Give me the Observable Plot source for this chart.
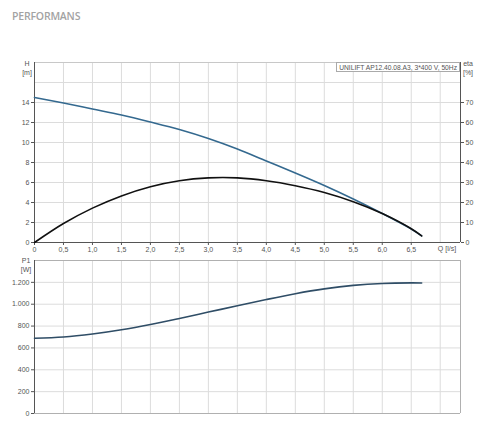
<!DOCTYPE html>
<html><head><meta charset="utf-8">
<script src="https://cdn.jsdelivr.net/npm/d3@7"></script>
<script src="https://cdn.jsdelivr.net/npm/@observablehq/plot@0.6"></script>
<style>
body{margin:0;background:#fff;font-family:"Liberation Sans",Arial,sans-serif;}
#wrap{position:relative;width:480px;height:426px;overflow:hidden;background:#fff;}
.lbl{position:absolute;font-size:7px;color:#555;line-height:9px;text-align:center;white-space:nowrap;}
#title{position:absolute;left:12px;top:9px;font-family:"Open Sans",sans-serif;font-weight:600;font-size:10.5px;color:#a3a3a3;letter-spacing:-0.2px;}
#box{position:absolute;right:20px;top:62px;height:10px;padding:0 2px;border:1px solid #aaa;background:#fff;font-size:6.7px;line-height:9px;color:#555;box-sizing:border-box;}
#top,#bot{position:absolute;left:0;}
#top{top:50px;}
#bot{top:250px;}
</style></head><body><div id="wrap">
<div id="title">PERFORMANS</div>
<div id="top"></div>
<div id="bot"></div>
<div class="lbl" style="left:20px;top:59px;width:14px;">H<br>[m]</div>
<div class="lbl" style="left:460px;top:59px;width:16px;">eta<br>[%]</div>
<div class="lbl" style="left:430px;top:244px;width:34px;">Q [l/s]</div>
<div class="lbl" style="left:18px;top:256px;width:16px;">P1<br>[W]</div>
<div id="box">UNILIFT AP12.40.08.A3, 3*400 V, 50Hz</div>
</div>
<script>
// Flow Q [l/s]
const q    = [0, 0.5, 1.0, 1.5, 2.0, 2.5, 3.0, 3.5, 4.0, 4.5, 5.0, 5.5, 6.0, 6.5, 6.68];
// Head H [m]
const head = [14.5, 13.95, 13.35, 12.75, 12.05, 11.3, 10.4, 9.35, 8.15, 6.95, 5.7, 4.35, 2.9, 1.35, 0.67];
// Efficiency eta [%]
const eta  = [0, 9.5, 17.2, 23.3, 27.9, 30.9, 32.3, 32.3, 30.9, 28.4, 25.0, 20.4, 14.5, 6.9, 3.3];
// Power P1 [W]
const p1   = [688, 700, 728, 767, 815, 870, 928, 986, 1043, 1096, 1140, 1172, 1190, 1195, 1194];

const xTicks = [0, 0.5, 1.0, 1.5, 2.0, 2.5, 3.0, 3.5, 4.0, 4.5, 5.0, 5.5, 6.0, 6.5];
const xGrid  = [0.5, 1.0, 1.5, 2.0, 2.5, 3.0, 3.5, 4.0, 4.5, 5.0, 5.5, 6.0, 6.5, 7.0];
const hTicks = [0, 2, 4, 6, 8, 10, 12, 14];
const hGrid  = [2, 4, 6, 8, 10, 12, 14, 16];
const pTicks = [0, 200, 400, 600, 800, 1000, 1200];
const etaPerH = 5;
const xMax = 7.35, hMax = 18, pMax = 1400;

const data = q.map((v, i) => ({q: v, h: head[i], eta: eta[i], p: p1[i]}));
const fmtX = d => d === 0 ? "0" : d.toFixed(1).replace(".", ",");
const fmtP = d => d3.format(",")(d).replace(/,/g, ".");
const style = {background: "transparent", fontFamily: "Liberation Sans, Arial, sans-serif", fontSize: "7px", color: "#555", overflow: "visible"};
const gridC = "#dcdcdc";

const topPlot = Plot.plot({
  width: 480, height: 210, marginLeft: 34, marginRight: 20, marginTop: 12, marginBottom: 18,
  style,
  x: {domain: [0, xMax]},
  y: {domain: [0, hMax]},
  marks: [
    Plot.gridX(xGrid, {stroke: gridC, strokeOpacity: 1}),
    Plot.gridY(hGrid, {stroke: gridC, strokeOpacity: 1}),
    Plot.ruleY([hMax], {stroke: "#c8c8c8"}),
    Plot.axisX(xTicks, {tickSize: 3, tickPadding: 2, tickFormat: fmtX, label: null, stroke: "#555", fill: "#555"}),
    Plot.axisY(hTicks, {anchor: "left", tickSize: 3, tickPadding: 2, label: null, stroke: "#555", fill: "#555"}),
    Plot.axisY(hTicks, {anchor: "right", tickSize: 3, tickPadding: 2, tickFormat: d => d * etaPerH, label: null, stroke: "#555", fill: "#555"}),
    Plot.ruleX([0, xMax], {stroke: "#555"}),
    Plot.ruleY([0], {stroke: "#555"}),
    Plot.line(data, {x: "q", y: "h", curve: "catmull-rom", stroke: "#34698f", strokeWidth: 1.6}),
    Plot.line(data, {x: "q", y: d => d.eta / etaPerH, curve: "catmull-rom", stroke: "#111", strokeWidth: 1.6})
  ]
});
document.getElementById("top").append(topPlot);

const botPlot = Plot.plot({
  width: 480, height: 176, marginLeft: 34, marginRight: 20, marginTop: 10, marginBottom: 13,
  style,
  x: {domain: [0, xMax], axis: null},
  y: {domain: [0, pMax]},
  marks: [
    Plot.gridX(xGrid, {stroke: gridC, strokeOpacity: 1}),
    Plot.gridY(pTicks.slice(1), {stroke: gridC, strokeOpacity: 1}),
    Plot.ruleY([pMax], {stroke: "#b0b0b0"}),
    Plot.ruleX([xMax], {stroke: "#b0b0b0"}),
    Plot.ruleY([0], {stroke: "#b0b0b0"}),
    Plot.axisY(pTicks, {anchor: "left", tickSize: 3, tickPadding: 2, tickFormat: fmtP, label: null, stroke: "#555", fill: "#555"}),
    Plot.ruleX([0], {stroke: "#555"}),
    Plot.line(data, {x: "q", y: "p", curve: "catmull-rom", stroke: "#2f4d66", strokeWidth: 1.6})
  ]
});
document.getElementById("bot").append(botPlot);
</script>
</body></html>
